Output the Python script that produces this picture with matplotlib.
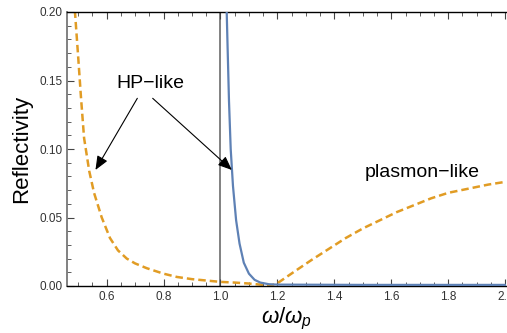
import matplotlib
matplotlib.use("Agg")
import matplotlib.pyplot as plt
from matplotlib.ticker import MultipleLocator

plt.rcParams['font.family'] = ['Liberation Sans', 'DejaVu Sans']
plt.rcParams['mathtext.fontset'] = 'custom'
plt.rcParams['mathtext.it'] = 'Liberation Sans:italic'
plt.rcParams['mathtext.rm'] = 'Liberation Sans'

# Orange dashed curve
orange_x = [0.480, 0.489, 0.500, 0.510, 0.521, 0.539, 0.556, 0.583, 0.612, 0.640,
            0.671, 0.700, 0.741, 0.800, 0.847, 0.900, 0.950, 1.000, 1.050, 1.100,
            1.150, 1.173, 1.200, 1.268, 1.320, 1.380, 1.440, 1.500, 1.560, 1.620,
            1.680, 1.740, 1.800, 1.870, 1.940, 2.000]
orange_y = [0.240, 0.200, 0.168, 0.138, 0.108, 0.084, 0.068, 0.050, 0.035, 0.026,
            0.020, 0.0165, 0.013, 0.009, 0.0066, 0.005, 0.004, 0.003, 0.0025, 0.0018,
            0.0008, 0.0000, 0.0020, 0.0117, 0.019, 0.027, 0.035, 0.042, 0.048, 0.054,
            0.059, 0.064, 0.068, 0.071, 0.074, 0.076]

# Blue solid curve
blue_x = [1.018, 1.022, 1.025, 1.030, 1.036, 1.044, 1.055, 1.067, 1.082, 1.100,
          1.120, 1.140, 1.170, 1.200, 1.500, 2.000]
blue_y = [0.260, 0.200, 0.175, 0.135, 0.100, 0.073, 0.048, 0.031, 0.017, 0.009,
          0.0045, 0.0025, 0.0013, 0.0010, 0.0008, 0.0008]

vline_x = 1.0
xticks = [0.6, 0.8, 1.0, 1.2, 1.4, 1.6, 1.8, 2.0]
yticks = [0.00, 0.05, 0.10, 0.15, 0.20]

fig = plt.figure(figsize=(5.07, 3.33), dpi=100)
ax = fig.add_axes([67/507, 1-286/333, (506-67)/507, (286-12)/333])

ax.axvline(vline_x, color='#777777', lw=1.3, zorder=1)
ax.plot(orange_x, orange_y, color='#E19C24', lw=1.8, dashes=(3, 1.6), zorder=2)
ax.plot(blue_x, blue_y, color='#5E81B5', lw=1.6, zorder=3)

ax.set_xlim(0.461, 2.003)
ax.set_ylim(0, 0.2)
ax.set_xticks(xticks)
ax.set_xticklabels([f"{t:.1f}" for t in xticks])
ax.set_yticks(yticks)
ax.set_yticklabels([f"{t:.2f}" for t in yticks])
ax.xaxis.set_minor_locator(MultipleLocator(0.05))
ax.yaxis.set_minor_locator(MultipleLocator(0.01))
ax.tick_params(which='both', direction='in', top=True, right=False,
               labelsize=8.5, labelcolor='#333333', color='#444444')
ax.tick_params(which='major', length=5, width=0.8)
ax.tick_params(which='minor', length=3, width=0.6)
for s in ['top', 'bottom']:
    ax.spines[s].set_color('black')
    ax.spines[s].set_linewidth(1.0)
ax.spines['left'].set_color('#777777')
ax.spines['left'].set_linewidth(1.3)
ax.spines['right'].set_visible(False)

ax.set_ylabel('Reflectivity', fontsize=16, labelpad=5)
ax.set_xlabel(r'$\omega/\omega_p$', fontsize=16, labelpad=2)

ap = dict(arrowstyle='-|>,head_length=0.6,head_width=0.25', mutation_scale=14,
          lw=0.8, color='black', shrinkA=0, shrinkB=0)
ax.text(0.754, 0.148, 'HP\u2212like', fontsize=14, ha='center', va='center')
ax.annotate('', xy=(0.561, 0.0847), xytext=(0.708, 0.137), arrowprops=ap)
ax.annotate('', xy=(1.040, 0.0847), xytext=(0.762, 0.137), arrowprops=ap)
ax.text(1.707, 0.083, 'plasmon\u2212like', fontsize=14, ha='center', va='center')

fig.savefig('out.png', dpi=100)
